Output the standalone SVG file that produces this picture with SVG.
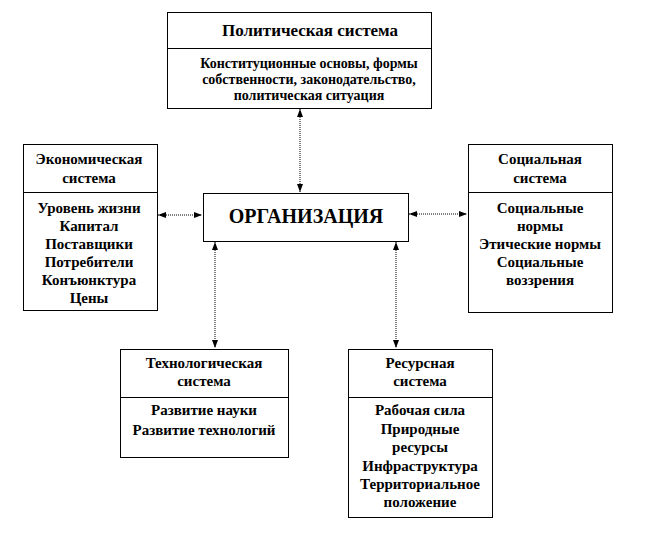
<svg xmlns="http://www.w3.org/2000/svg" width="672" height="540" viewBox="0 0 672 540">
<defs>
<style>
.box{fill:#fff;stroke:#000;stroke-width:1}
.div{stroke:#000;stroke-width:1}
.t{font-family:"Liberation Serif","Times New Roman",serif;font-weight:bold;font-size:15px;fill:#000;text-anchor:middle}
.p{font-size:14px}
.h{font-size:17px}
.org{font-size:20px}
.c{stroke:#000;stroke-width:1;stroke-dasharray:1 1;fill:none;marker-start:url(#a);marker-end:url(#a)}
</style>
<marker id="a" viewBox="0 0 8 8" refX="8" refY="4" markerWidth="8" markerHeight="8" markerUnits="userSpaceOnUse" orient="auto-start-reverse">
<path d="M0,1 L8,4 L0,7 Z" fill="#000"/>
</marker>
</defs>
<rect width="672" height="540" fill="#fff"/>
<g id="connectors">
<line class="c" x1="300" y1="109" x2="300" y2="192"/>
<line class="c" x1="158" y1="215" x2="202" y2="215"/>
<line class="c" x1="409" y1="214" x2="467" y2="214"/>
<line class="c" x1="215" y1="242" x2="215" y2="348"/>
<line class="c" x1="396" y1="242" x2="396" y2="348"/>
</g>
<g id="political">
<rect class="box" x="167.5" y="12.5" width="264" height="96"/>
<line class="div" x1="167.5" y1="48.5" x2="431.5" y2="48.5"/>
<text class="t h" x="310" y="36">Политическая система</text>
<text class="t p" x="309" y="68">Конституционные  основы, формы</text>
<text class="t p" x="309" y="84">собственности, законодательство,</text>
<text class="t p" x="309" y="100">политическая ситуация</text>
</g>
<g id="organization">
<rect class="box" x="203.5" y="193.5" width="205" height="48"/>
<text class="t org" x="306" y="223">ОРГАНИЗАЦИЯ</text>
</g>
<g id="economic">
<rect class="box" x="23.5" y="144.5" width="134" height="166"/>
<line class="div" x1="23.5" y1="192.5" x2="157.5" y2="192.5"/>
<text class="t" x="89" y="164">Экономическая</text>
<text class="t" x="89" y="183">система</text>
<text class="t" x="89" y="213">Уровень жизни</text>
<text class="t" x="89" y="231">Капитал</text>
<text class="t" x="89" y="249">Поставщики</text>
<text class="t" x="89" y="267">Потребители</text>
<text class="t" x="89" y="285">Конъюнктура</text>
<text class="t" x="89" y="303">Цены</text>
</g>
<g id="social">
<rect class="box" x="468.5" y="144.5" width="144" height="168"/>
<line class="div" x1="468.5" y1="192.5" x2="612.5" y2="192.5"/>
<text class="t" x="540" y="164">Социальная</text>
<text class="t" x="540" y="183">система</text>
<text class="t" x="540" y="213">Социальные</text>
<text class="t" x="540" y="231">нормы</text>
<text class="t" x="540" y="249">Этические нормы</text>
<text class="t" x="540" y="267">Социальные</text>
<text class="t" x="540" y="285">воззрения</text>
</g>
<g id="technological">
<rect class="box" x="120.5" y="349.5" width="168" height="108"/>
<line class="div" x1="120.5" y1="397.5" x2="288.5" y2="397.5"/>
<text class="t" x="204" y="368">Технологическая</text>
<text class="t" x="204" y="386">система</text>
<text class="t" x="204" y="415">Развитие науки</text>
<text class="t" x="204" y="435">Развитие технологий</text>
</g>
<g id="resource">
<rect class="box" x="348.5" y="349.5" width="144" height="168"/>
<line class="div" x1="348.5" y1="397.5" x2="492.5" y2="397.5"/>
<text class="t" x="420" y="368">Ресурсная</text>
<text class="t" x="420" y="386">система</text>
<text class="t" x="420" y="415">Рабочая сила</text>
<text class="t" x="420" y="434">Природные</text>
<text class="t" x="420" y="452">ресурсы</text>
<text class="t" x="420" y="471">Инфраструктура</text>
<text class="t" x="420" y="489">Территориальное</text>
<text class="t" x="420" y="507">положение</text>
</g>
</svg>
